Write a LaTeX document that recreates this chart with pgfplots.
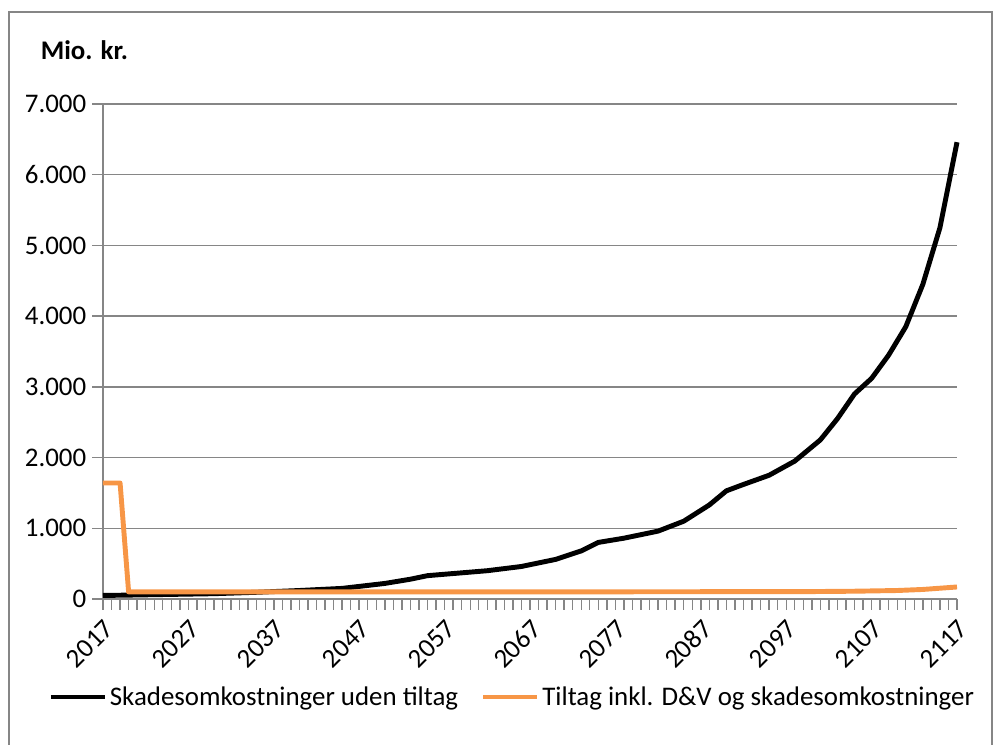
\documentclass[border=0pt]{standalone}
\usepackage{pgfplots}
\pgfplotsset{compat=1.18}
\usepackage{fontspec}
\setmainfont{Carlito}
\definecolor{xlorange}{RGB}{247,150,70}
\definecolor{xlgray}{RGB}{134,134,134}
\begin{document}
\begin{tikzpicture}[font=\fontsize{15.3}{18}\selectfont]
\begin{axis}[
    at={(0,0)}, anchor=south west,
    scale only axis,
    width=17.08cm, height=9.9cm,
    xmin=2017, xmax=2117,
    ymin=0, ymax=7000,
    xtick={2017,2027,...,2117},
    minor x tick num=9,
    ytick={0,1000,...,7000},
    axis x line*=bottom, axis y line*=left,
    axis line style={xlgray, line width=0.8pt},
    x axis line style={-}, y axis line style={-},
    tick align=outside,
    major tick length=6pt, minor tick length=6pt,
    tick style={xlgray, line width=0.8pt},
    ymajorgrids,
    grid style={xlgray, line width=0.8pt},
    xticklabel style={rotate=45, anchor=north east, /pgf/number format/1000 sep={}},
    yticklabel style={/pgf/number format/.cd, 1000 sep={.}},
    /pgf/number format/assume math mode=true,
    clip=false,
    legend style={at={(-0.0644,-0.198)}, anchor=west, draw=none, legend columns=2,
        inner sep=0pt, nodes={inner sep=1.5pt},
        /tikz/every even column/.append style={column sep=0.4cm},
        font=\fontsize{15.3}{18}\selectfont},
    legend image code/.code={\draw[#1] (0cm,0cm) -- (1.08cm,0cm);},
]
\addplot[black, line width=2.8pt, line join=round] coordinates {
(2017,50) (2020,55) (2025,65) (2030,75) (2035,95) (2040,120) (2045,150)
(2050,220) (2053,280) (2055,330) (2058,360) (2062,400) (2066,460)
(2070,560) (2073,680) (2075,800) (2078,860) (2082,960) (2085,1100)
(2088,1330) (2090,1530) (2092,1620) (2095,1750) (2098,1950) (2101,2250)
(2103,2550) (2105,2900) (2107,3120) (2109,3450) (2111,3850) (2113,4450)
(2115,5250) (2117,6460)
};
\addlegendentry{Skadesomkostninger uden tiltag}
\addplot[xlorange, line width=2.8pt, line join=round] coordinates {
(2017,1640) (2019,1640) (2020,100) (2040,100) (2060,100) (2080,102)
(2100,105) (2105,110) (2110,120) (2113,135) (2117,170)
};
\addlegendentry{Tiltag inkl. D\&V og skadesomkostninger}
\node[anchor=west, font=\fontsize{15.3}{18}\selectfont\bfseries] at (rel axis cs:-0.08,1.109) {Mio. kr.};
\end{axis}
\draw[xlgray, line width=0.8pt] (-1.88cm,-3.2cm) rectangle (17.78cm,11.74cm);
\pgfresetboundingbox
\useasboundingbox (-2.06cm,-2.92cm) rectangle (17.94cm,11.98cm);
\end{tikzpicture}
\end{document}
